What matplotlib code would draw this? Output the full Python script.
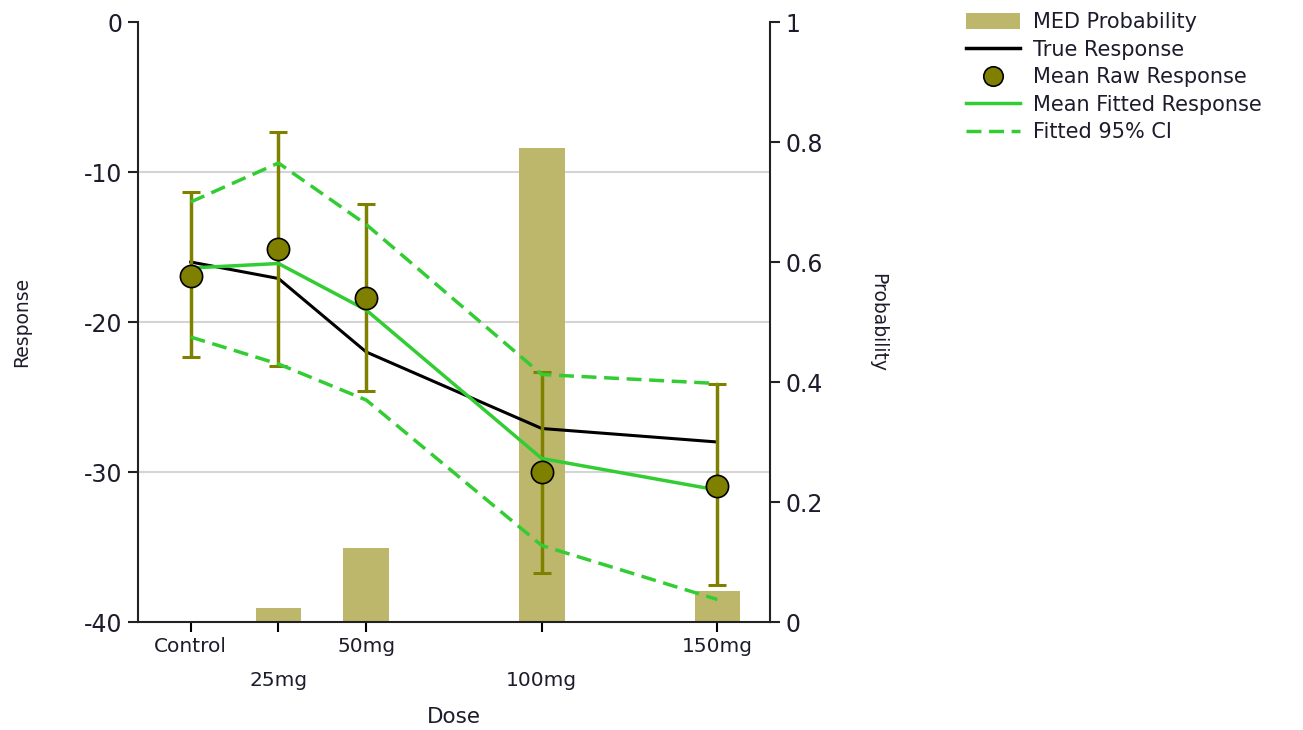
import matplotlib
matplotlib.use('Agg')
import matplotlib.pyplot as plt
import numpy as np
from matplotlib.patches import Patch
from matplotlib.lines import Line2D

matplotlib.rcParams['font.family'] = 'DejaVu Sans'
matplotlib.rcParams['axes.unicode_minus'] = False

# Values
doses = np.array([0, 25, 50, 100, 150])
dose_labels = ['Control', '\n25mg', '50mg', '\n100mg', '150mg']
med_prob = np.array([0.0, 0.023, 0.124, 0.79, 0.052])
true_resp = np.array([-16.0, -17.1, -22.0, -27.1, -28.0])
raw_mean = np.array([-16.9, -15.1, -18.4, -30.0, -30.9])
raw_lo = np.array([-22.3, -22.9, -24.6, -36.7, -37.5])
raw_hi = np.array([-11.3, -7.3, -12.1, -23.3, -24.1])
fit_mean = np.array([-16.4, -16.1, -19.2, -29.1, -31.2])
fit_lo = np.array([-21.0, -22.8, -25.2, -34.9, -38.5])
fit_hi = np.array([-12.0, -9.4, -13.5, -23.5, -24.1])

txt = '#1c1c2c'
bar_col = '#BDB76B'
olive = '#808000'
green = '#32CD32'
dash = (0, (4.3, 2.2))

fig = plt.figure(figsize=(13.03, 7.30), dpi=100)
# probability axis (bars, grid) underneath, response axis on top
ax2 = fig.add_axes([138/1303, 1-622/730, 632/1303, 600/730])
ax = fig.add_axes(ax2.get_position(), sharex=ax2)
ax.patch.set_visible(False)

ylo, yhi = -40, 0

ax2.bar(doses, med_prob, width=13, color=bar_col, zorder=2)
ax2.set_ylim(0, 1)
ax2.set_xlim(-15, 165)
ax2.yaxis.tick_right()
ax2.yaxis.set_label_position('right')
ax2.set_yticks([0, 0.2, 0.4, 0.6, 0.8, 1])
ax2.set_yticklabels(['0', '0.2', '0.4', '0.6', '0.8', '1'])
# gridlines at the response ticks -10, -20, -30
grid_pos = [(v - ylo) / (yhi - ylo) for v in [-30, -20, -10]]
ax2.set_yticks(grid_pos, minor=True)
ax2.yaxis.grid(True, which='minor', color='#d4d4d4', linewidth=1.5, zorder=0)
ax2.tick_params(axis='y', which='minor', length=0)
ax2.set_axisbelow(True)
ax2.set_ylabel('Probability', fontsize=13.5, color=txt, rotation=-90, labelpad=46)
ax2.tick_params(axis='y', which='major', direction='out', length=7, width=1.5,
                labelsize=17, colors='#222222', labelcolor=txt, pad=4)
ax2.set_xticks(doses)
ax2.set_xticklabels(dose_labels, fontsize=14.5, color=txt, linespacing=2.0)
ax2.tick_params(axis='x', direction='out', length=7, width=1.5, pad=4)
ax2.set_xlabel('Dose', fontsize=15.5, color=txt, labelpad=12)
for s in ['top', 'left']:
    ax2.spines[s].set_visible(False)
for s in ['right', 'bottom']:
    ax2.spines[s].set_linewidth(1.5)
    ax2.spines[s].set_color('#222222')

ax.plot(doses, true_resp, color='black', lw=2.2, zorder=3)
ax.errorbar(doses, raw_mean, yerr=[raw_mean - raw_lo, raw_hi - raw_mean], fmt='none',
            ecolor=olive, elinewidth=2.5, capsize=6.5, capthick=2.2, zorder=4)
ax.plot(doses, fit_mean, color=green, lw=2.5, zorder=5)
ax.plot(doses, fit_hi, color=green, lw=2.5, ls=dash, zorder=5)
ax.plot(doses, fit_lo, color=green, lw=2.5, ls=dash, zorder=5)
ax.plot(doses, raw_mean, 'o', ms=16, mfc=olive, mec='black', mew=1.2, zorder=6)
ax.set_ylim(ylo, yhi)
ax.set_yticks([-40, -30, -20, -10, 0])
ax.tick_params(axis='y', direction='out', length=7, width=1.5, labelsize=17,
               colors='#222222', labelcolor=txt, pad=4)
ax.tick_params(axis='x', bottom=False, labelbottom=False)
ax.set_ylabel('Response', fontsize=13.5, color=txt, labelpad=38)
for s in ['top', 'right', 'bottom']:
    ax.spines[s].set_visible(False)
ax.spines['left'].set_linewidth(1.5)
ax.spines['left'].set_color('#222222')

handles = [
    Patch(facecolor=bar_col, edgecolor='none'),
    Line2D([], [], color='black', lw=2.5),
    Line2D([], [], ls='none', marker='o', ms=14, mfc=olive, mec='black', mew=1.2),
    Line2D([], [], color=green, lw=2.5),
    Line2D([], [], color=green, lw=2.5, ls=dash),
]
labels = ['MED Probability', 'True Response', 'Mean Raw Response',
          'Mean Fitted Response', 'Fitted 95% CI']
leg = fig.legend(handles, labels, loc='upper left', bbox_to_anchor=(958/1303, 1-4/730),
                 frameon=False, fontsize=15, handlelength=2.6, handletextpad=0.6,
                 handleheight=0.8, labelspacing=0.36, borderaxespad=0)
for t in leg.get_texts():
    t.set_color(txt)

fig.savefig('out.png', dpi=100)
